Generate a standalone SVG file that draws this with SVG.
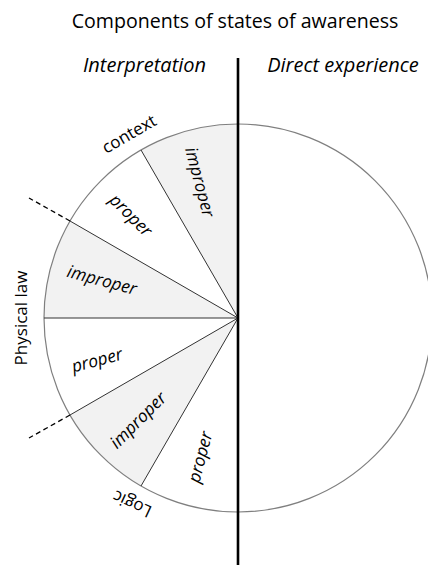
<svg xmlns="http://www.w3.org/2000/svg" width="428" height="565" viewBox="0 0 428 565">
<style>
text{font-family:"Open Sans","Noto Sans","Liberation Sans",sans-serif;fill:#000}
.t{font-size:19.6px}
.h{font-size:20px;font-style:italic}
.l{font-size:17.3px;font-style:italic}
.o{font-size:17px}
.grey{fill:#f2f2f2;stroke:none}
.spoke{stroke:#333;stroke-width:1;fill:none}
.rim{stroke:#7f7f7f;stroke-width:1.2;fill:none}
.dash{stroke:#000;stroke-width:1.3;stroke-dasharray:5 3.5;fill:none}
</style>
<rect width="428" height="565" fill="#fff"/>
<text class="t" x="235" y="28" text-anchor="middle">Components of states of awareness</text>
<text class="h" x="144.5" y="72" text-anchor="middle">Interpretation</text>
<text class="h" x="343" y="72" text-anchor="middle">Direct experience</text>
<g id="sectors">
<g id="s1"><path class="grey" d="M238,318 L238,124 A194,194 0 0 0 141,150 Z"/><text class="l" transform="translate(200,182) rotate(75)" text-anchor="middle" dy="0.35em">improper</text></g>
<g id="s2"><text class="l" transform="translate(131,215) rotate(45)" text-anchor="middle" dy="0.35em">proper</text></g>
<g id="s3"><path class="grey" d="M238,318 L70,221 A194,194 0 0 0 44,318 Z"/><text class="l" transform="translate(102,280) rotate(15)" text-anchor="middle" dy="0.35em">improper</text></g>
<g id="s4"><text class="l" transform="translate(97,360) rotate(-15)" text-anchor="middle" dy="0.35em">proper</text></g>
<g id="s5"><path class="grey" d="M238,318 L70,415 A194,194 0 0 0 141,486 Z"/><text class="l" transform="translate(138,420) rotate(-45)" text-anchor="middle" dy="0.35em">improper</text></g>
<g id="s6"><text class="l" transform="translate(200,457) rotate(-75)" text-anchor="middle" dy="0.35em">proper</text></g>
</g>
<g id="connectors">
<path class="rim" d="M238,124 A194,194 0 1 0 238,512 A194,194 0 1 0 238,124 Z"/>
<path class="spoke" d="M238,318 L141,150 M238,318 L70,221 M238,318 L44,318 M238,318 L70,415 M238,318 L141,486"/>
<path class="dash" d="M70,221 L29,198 M70,415 L29,438"/>
<line x1="238" y1="58" x2="238" y2="565" stroke="#000" stroke-width="2.6"/>
</g>
<g id="labels">
<text class="o" transform="translate(129,134) rotate(-30)" text-anchor="middle" dy="0.35em">context</text>
<text class="o" transform="translate(21,318) rotate(-90)" text-anchor="middle" dy="0.35em">Physical law</text>
<text class="o" transform="translate(132,504) rotate(205)" text-anchor="middle" dy="0.35em">Logic</text>
</g>
</svg>
